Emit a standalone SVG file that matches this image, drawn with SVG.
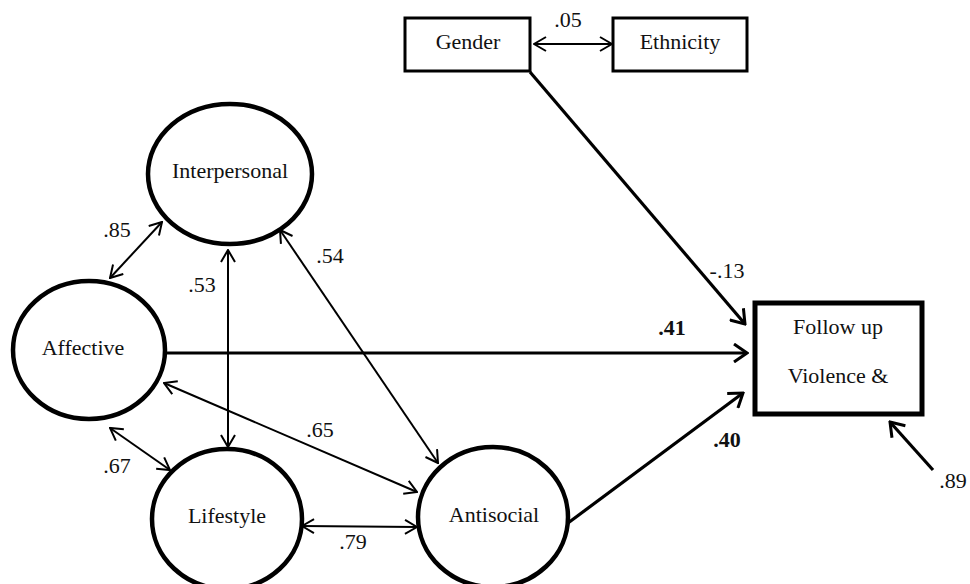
<svg xmlns="http://www.w3.org/2000/svg" width="970" height="584" viewBox="0 0 970 584">
<defs>
<style>
text{font-family:"Liberation Serif","Times New Roman",serif;font-size:22px;fill:#111;text-anchor:middle}
.b{font-weight:bold}
.node{fill:#fff;stroke:#000}
.ell{stroke-width:4.5}
.box{stroke-width:3}
.boxk{stroke-width:5}
.thin{fill:none;stroke:#000;stroke-width:2;marker-end:url(#ah);}
.dbl{marker-start:url(#ah)}
.thick{fill:none;stroke:#000;stroke-width:3.2;marker-end:url(#ahk)}
</style>
<marker id="ah" viewBox="0 0 14 16" refX="13" refY="8" markerWidth="14" markerHeight="16" markerUnits="userSpaceOnUse" orient="auto-start-reverse">
<path d="M1,1 L13,8 L1,15" fill="none" stroke="#000" stroke-width="2"/>
</marker>
<marker id="ahk" viewBox="0 0 16 20" refX="14" refY="10" markerWidth="16" markerHeight="20" markerUnits="userSpaceOnUse" orient="auto">
<path d="M1,1 L14,10 L1,19" fill="none" stroke="#000" stroke-width="3"/>
</marker>
</defs>
<rect width="970" height="584" fill="#fff"/>

<g id="connectors">
<line class="thin dbl" x1="534" y1="44" x2="612" y2="44"/>
<line class="thin dbl" x1="162" y1="222" x2="110" y2="278"/>
<line class="thin dbl" x1="228" y1="250" x2="228" y2="447"/>
<line class="thin dbl" x1="280" y1="230" x2="438" y2="463"/>
<line class="thin dbl" x1="164" y1="383" x2="417" y2="492"/>
<line class="thin dbl" x1="110" y1="428" x2="170" y2="470"/>
<line class="thin dbl" x1="302" y1="526" x2="417" y2="527"/>
<line class="thick" x1="530" y1="72" x2="745" y2="324"/>
<line class="thick" x1="165" y1="353" x2="747" y2="353"/>
<line class="thick" x1="568" y1="523" x2="743" y2="393"/>
<line class="thick" x1="933" y1="470" x2="890" y2="422"/>
</g>

<g id="gender"><rect class="node box" x="405" y="18" width="125" height="53"/><text x="468" y="49">Gender</text></g>
<g id="ethnicity"><rect class="node box" x="613" y="18" width="134" height="53"/><text x="680" y="49">Ethnicity</text></g>
<g id="interpersonal"><ellipse class="node ell" cx="230" cy="174" rx="82" ry="70"/><text x="230" y="178">Interpersonal</text></g>
<g id="affective"><ellipse class="node ell" cx="89" cy="350" rx="76" ry="69"/><text x="83" y="355">Affective</text></g>
<g id="lifestyle"><ellipse class="node ell" cx="227" cy="519" rx="75" ry="70"/><text x="227" y="523">Lifestyle</text></g>
<g id="antisocial"><ellipse class="node ell" cx="493" cy="517" rx="75" ry="70"/><text x="494" y="522">Antisocial</text></g>
<g id="followup"><rect class="node boxk" x="755" y="303" width="167" height="111"/><text x="838" y="334">Follow up</text><text x="838" y="383">Violence &amp;</text></g>

<g id="labels">
<text x="568" y="27">.05</text>
<text x="117" y="237">.85</text>
<text x="202" y="292">.53</text>
<text x="330" y="263">.54</text>
<text x="320" y="437">.65</text>
<text x="117" y="473">.67</text>
<text x="353" y="549">.79</text>
<text x="727" y="278">-.13</text>
<text class="b" x="672" y="335">.41</text>
<text class="b" x="727" y="447">.40</text>
<text x="953" y="488">.89</text>
</g>
</svg>
